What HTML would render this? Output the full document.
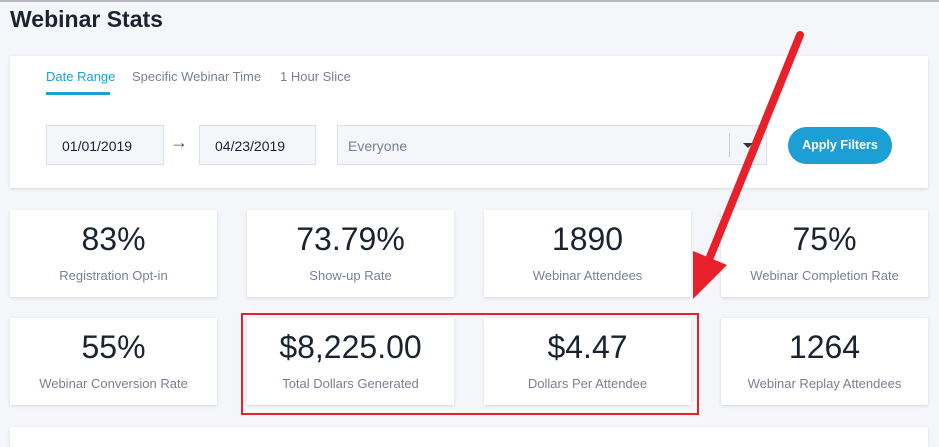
<!DOCTYPE html>
<html><head><style>
body{margin:0;width:939px;height:434px;background:#f4f6fa;font-family:"Liberation Sans",sans-serif;position:relative;overflow:hidden}
.abs{position:absolute}
h1{position:absolute;left:10px;top:6px;margin:0;font-size:23px;font-weight:bold;color:#1b2230}
.card{position:absolute;background:#fff;box-shadow:0 1px 3px rgba(0,0,0,0.12)}
.stat .n{position:absolute;left:0;right:0;top:11px;text-align:center;font-size:32px;color:#1b2230}
.stat .l{position:absolute;left:0;right:0;top:58px;text-align:center;font-size:13px;color:#7a8194}
.tab{position:absolute;top:69px;font-size:13px;color:#7a8194}
.inp{position:absolute;top:125px;height:40px;border:1px solid #d8e0e8;background:#f4f6fa;box-sizing:border-box;font-size:14px;color:#1b2230;line-height:40px}
</style></head><body>
<div class="abs" style="left:0;top:0;width:939px;height:2px;background:#b8b8c0"></div>
<h1>Webinar Stats</h1>
<div class="card" style="left:10px;top:56px;width:918px;height:132px"></div>
<div class="tab" style="left:46px;color:#1c9fd4">Date Range</div>
<div class="abs" style="left:46px;top:92px;width:64px;height:3px;background:#1c9fd4"></div>
<div class="tab" style="left:132px">Specific Webinar Time</div>
<div class="tab" style="left:280px">1 Hour Slice</div>
<div class="inp" style="left:46px;width:118px;padding-left:15px">01/01/2019</div>
<div class="abs" style="left:170px;top:132px;font-size:18px;color:#555">&#8594;</div>
<div class="inp" style="left:199px;width:117px;padding-left:15px">04/23/2019</div>
<div class="inp" style="left:337px;width:430px;padding-left:10px;color:#7a8194">Everyone</div>
<div class="abs" style="left:729px;top:133px;width:1px;height:24px;background:#ccc"></div>
<div class="abs" style="left:743px;top:143px;width:0;height:0;border-left:5px solid transparent;border-right:5px solid transparent;border-top:5px solid #333"></div>
<div class="abs" style="left:788px;top:127px;width:104px;height:37px;border-radius:19px;background:#1c9fd4;color:#fff;font-size:12.5px;font-weight:bold;text-align:center;line-height:37px">Apply Filters</div>

<div class="card stat" style="left:10px;top:210px;width:207px;height:87px"><div class="n">83%</div><div class="l">Registration Opt-in</div></div>
<div class="card stat" style="left:247px;top:210px;width:207px;height:87px"><div class="n">73.79%</div><div class="l">Show-up Rate</div></div>
<div class="card stat" style="left:484px;top:210px;width:207px;height:87px"><div class="n">1890</div><div class="l">Webinar Attendees</div></div>
<div class="card stat" style="left:721px;top:210px;width:207px;height:87px"><div class="n">75%</div><div class="l">Webinar Completion Rate</div></div>
<div class="card stat" style="left:10px;top:318px;width:207px;height:87px"><div class="n">55%</div><div class="l">Webinar Conversion Rate</div></div>
<div class="card stat" style="left:247px;top:318px;width:207px;height:87px"><div class="n">$8,225.00</div><div class="l">Total Dollars Generated</div></div>
<div class="card stat" style="left:484px;top:318px;width:207px;height:87px"><div class="n">$4.47</div><div class="l">Dollars Per Attendee</div></div>
<div class="card stat" style="left:721px;top:318px;width:207px;height:87px"><div class="n">1264</div><div class="l">Webinar Replay Attendees</div></div>
<div class="card" style="left:10px;top:427px;width:918px;height:20px"></div>
<div class="abs" style="left:241px;top:313px;width:454px;height:98px;border:2px solid #e8202a"></div>
<svg class="abs" style="left:0;top:0" width="939" height="434">
<line x1="800" y1="35" x2="708" y2="262" stroke="#e8202a" stroke-width="8" stroke-linecap="round"/>
<polygon points="693,299 693,251 727,265" fill="#e8202a"/>
</svg>
</body></html>
